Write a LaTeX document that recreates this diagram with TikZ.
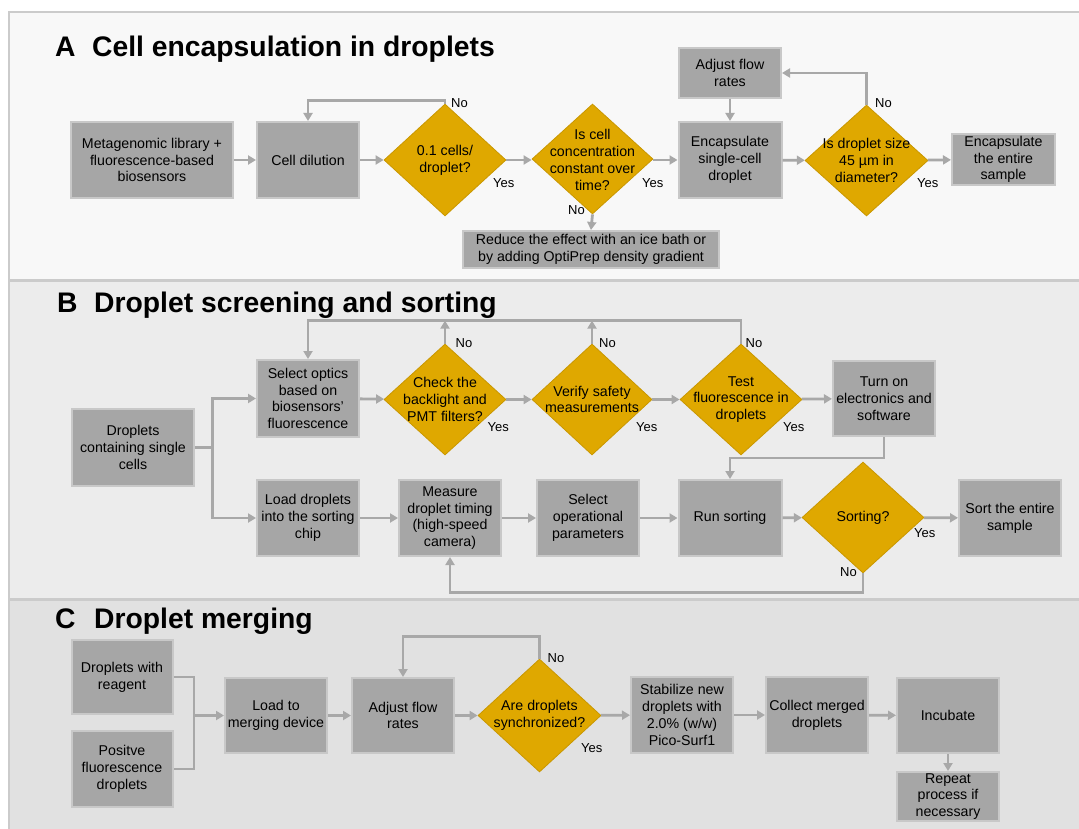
\documentclass[tikz,border=0pt]{standalone}
\usepackage{fontspec}
\setmainfont{Liberation Sans}
\usetikzlibrary{shapes.geometric,arrows.meta}
\definecolor{boxfill}{HTML}{A6A6A6}
\definecolor{boxline}{HTML}{C8C8C8}
\definecolor{gold}{HTML}{DFA800}
\definecolor{goldline}{HTML}{C99700}
\definecolor{arrowgray}{HTML}{A8A8A8}
\definecolor{bgA}{HTML}{F8F8F8}
\definecolor{bgB}{HTML}{ECECEC}
\definecolor{bgC}{HTML}{E1E1E1}
\definecolor{panelline}{HTML}{CBCBCB}
\begin{document}
\begin{tikzpicture}[x=1pt,y=-1pt,
  box/.style={rectangle, fill=boxfill, draw=boxline, line width=2pt, align=center, inner sep=1pt,
    font=\fontsize{14.2}{16.8}\selectfont, text=black},
  dia/.style={diamond, fill=gold, draw=goldline, line width=0.8pt, inner sep=0pt,
    minimum width=122pt, minimum height=112pt},
  dtext/.style={align=center, inner sep=0pt, font=\fontsize{14.2}{16.8}\selectfont, text=black},
  lbl/.style={anchor=west, inner sep=0pt, font=\fontsize{13}{15}\selectfont, text=black},
  ttl/.style={anchor=base west, inner sep=0pt, font=\fontsize{28.3}{32}\selectfont\bfseries, text=black},
  ln/.style={draw=arrowgray, line width=2.8pt},
  arr/.style={ln, -{Triangle[length=8pt,width=9pt]}},
  panel/.style={draw=panelline, line width=2pt}
]
\clip (0,0) rectangle (1079,829);
\useasboundingbox (0,0) rectangle (1079,829);
\fill[white] (0,0) rectangle (1079,829);
% panels
\path[panel, fill=bgA] (9,12) rectangle (1095,280);
\path[panel, fill=bgB] (9,281) rectangle (1095,599);
\path[panel, fill=bgC] (9,600) rectangle (1095,835);

% ---------------- Panel A ----------------
\node[ttl] (tA1) at (55,57) {A};
\node[ttl] (tA2) at (92,57) {Cell encapsulation in droplets};

\node[box, minimum width=162pt, minimum height=76pt] (meta) at (152,160) {Metagenomic library +\\fluorescence-based\\biosensors};
\node[box, minimum width=102pt, minimum height=76pt] (dil) at (308,160) {Cell dilution};
\node[dia] (d1) at (445,160) {};
\node[dtext] (d1t) at (d1) {0.1 cells/\\droplet?};
\node[dia, minimum width=121pt, minimum height=110pt] (d2) at (592.5,159) {};
\node[dtext] (d2t) at (592.5,160) {Is cell\\concentration\\constant over\\time?};
\node[box, minimum width=256pt, minimum height=37pt] (reduce) at (591,249.5) {Reduce the effect with an ice bath or\\by adding OptiPrep density gradient};
\node[box, minimum width=103pt, minimum height=76pt] (enc) at (730,160) {Encapsulate\\single-cell\\droplet};
\node[box, minimum width=102pt, minimum height=50pt] (adj) at (730,73) {Adjust flow\\rates};
\node[dia, minimum width=123pt, minimum height=111pt] (d3) at (866.5,160.5) {};
\node[dtext] (d3t) at (d3) {Is droplet size\\45 µm in\\diameter?};
\node[box, minimum width=103pt, minimum height=51pt] (encall) at (1003.5,159.5) {Encapsulate\\the entire\\sample};

\draw[arr] (meta) -- (dil);
\draw[arr] (dil) -- (d1);
\draw[arr] (d1) -- (d2.west |- d1);
\draw[arr] (d2.east |- d1) -- (enc);
\draw[arr] (enc) -- (d3);
\draw[arr] (d3) -- (encall);
\draw[arr] (d1.north) -- ++(0,-3) -| (dil.north);
\draw[arr] (d2.south) -- (reduce.north);
\draw[arr] (adj.south) -- (enc.north);
\draw[arr] (d3.north) |- (adj.east);

\node[lbl] (nA1) at (451,103) {No};
\node[lbl] (yA1) at (493,183) {Yes};
\node[lbl] (yA2) at (642,183) {Yes};
\node[lbl] (nA2) at (568,210) {No};
\node[lbl] (nA3) at (875,103) {No};
\node[lbl] (yA3) at (917,183) {Yes};

% ---------------- Panel B ----------------
\node[ttl] (tB1) at (57,312) {B};
\node[ttl] (tB2) at (94,312) {Droplet screening and sorting};

\node[box, minimum width=122pt, minimum height=77pt] (drop) at (133,447.5) {Droplets\\containing single\\cells};
\node[box, minimum width=102pt, minimum height=77pt] (sel) at (308,398.5) {Select optics\\based on\\biosensors'\\fluorescence};
\node[box, minimum width=102pt, minimum height=76pt] (load) at (308,518) {Load droplets\\into the sorting\\chip};
\node[box, minimum width=102pt, minimum height=76pt] (meas) at (450,518) {Measure\\droplet timing\\(high-speed\\camera)};
\node[dia, minimum height=111pt] (chk) at (445,399.5) {};
\node[dtext] (chkt) at (chk) {Check the\\backlight and\\PMT filters?};
\node[dia, minimum width=120pt, minimum height=111pt] (ver) at (592,399.5) {};
\node[dtext] (vert) at (ver) {Verify safety\\measurements};
\node[dia, minimum height=111pt] (test) at (741,399.5) {};
\node[dtext] (testt) at (test) {Test\\fluorescence in\\droplets};
\node[box, minimum width=102pt, minimum height=75pt] (turn) at (884,398.5) {Turn on\\electronics and\\software};
\node[box, minimum width=102pt, minimum height=76pt] (selop) at (588,518) {Select\\operational\\parameters};
\node[box, minimum width=103pt, minimum height=76pt] (run) at (730,518) {Run sorting};
\node[dia, minimum height=111pt] (sort) at (863,517.5) {};
\node[dtext] (sortt) at (sort) {Sorting?};
\node[box, minimum width=102pt, minimum height=76pt] (sortall) at (1010,518) {Sort the entire\\sample};

\coordinate (br) at (212.5,447.5);
\draw[ln] (drop.east) -- (br);
\draw[arr] (br) |- (sel.west);
\draw[arr] (br) |- (load.west);
\draw[arr] (sel) -- (chk);
\draw[arr] (chk) -- (ver);
\draw[arr] (ver) -- (test);
\draw[arr] (test) -- (turn);
\draw[arr] (test.north) -- ++(0,-23) coordinate (lt) -| (sel.north);
\draw[arr] (chk.north) -- (chk.north |- lt);
\draw[arr] (ver.north) -- (ver.north |- lt);
\draw[arr] (turn.south) -- ++(0,21) -| (run.north);
\draw[arr] (load) -- (meas);
\draw[arr] (meas) -- (selop);
\draw[arr] (selop) -- (run);
\draw[arr] (run) -- (sort);
\draw[arr] (sort) -- (sortall);
\draw[arr] (sort.south) -- ++(0,19) -| (meas.south);

\node[lbl] (nB1) at (455.5,343) {No};
\node[lbl] (yB1) at (487.5,427) {Yes};
\node[lbl] (nB2) at (599,343) {No};
\node[lbl] (yB2) at (636,427) {Yes};
\node[lbl] (nB3) at (745.5,343) {No};
\node[lbl] (yB3) at (783,427) {Yes};
\node[lbl] (yB4) at (914,533) {Yes};
\node[lbl] (nB4) at (840,572) {No};

% ---------------- Panel C ----------------
\node[ttl] (tC1) at (55,628) {C};
\node[ttl] (tC2) at (94,628) {Droplet merging};

\node[box, minimum width=101pt, minimum height=74pt] (reag) at (122,677) {Droplets with\\reagent};
\node[box, minimum width=101pt, minimum height=76pt] (pos) at (122,769) {Positve\\fluorescence\\droplets};
\node[box, minimum width=102pt, minimum height=75pt] (loadm) at (276,715.5) {Load to\\merging device};
\node[box, minimum width=102pt, minimum height=75pt] (adjc) at (403,715.5) {Adjust flow\\rates};
\node[dia, minimum width=123pt, minimum height=113pt] (sync) at (539.5,715.5) {};
\node[dtext] (synct) at (sync) {Are droplets\\synchronized?};
\node[box, minimum width=102pt, minimum height=76pt] (stab) at (682,715) {Stabilize new\\droplets with\\2.0\% (w/w)\\Pico-Surf1};
\node[box, minimum width=102pt, minimum height=76pt] (coll) at (817,715) {Collect merged\\droplets};
\node[box, minimum width=102pt, minimum height=75pt] (inc) at (948,715.5) {Incubate};
\node[box, minimum width=102pt, minimum height=49pt] (rep) at (948,796.5) {Repeat\\process if\\necessary};

\coordinate (mg) at (194,715.5);
\draw[ln] (reag.east) -| (mg) |- (pos.east);
\draw[arr] (mg) -- (loadm.west);
\draw[arr] (loadm) -- (adjc);
\draw[arr] (adjc) -- (sync);
\draw[arr] (sync) -- (stab);
\draw[arr] (stab) -- (coll);
\draw[arr] (coll) -- (inc);
\draw[arr] (inc) -- (rep);
\draw[arr] (sync.north) -- ++(0,-22) -| (adjc.north);

\node[lbl] (nC1) at (547.5,658) {No};
\node[lbl] (yC1) at (581,748) {Yes};
\end{tikzpicture}
\end{document}
